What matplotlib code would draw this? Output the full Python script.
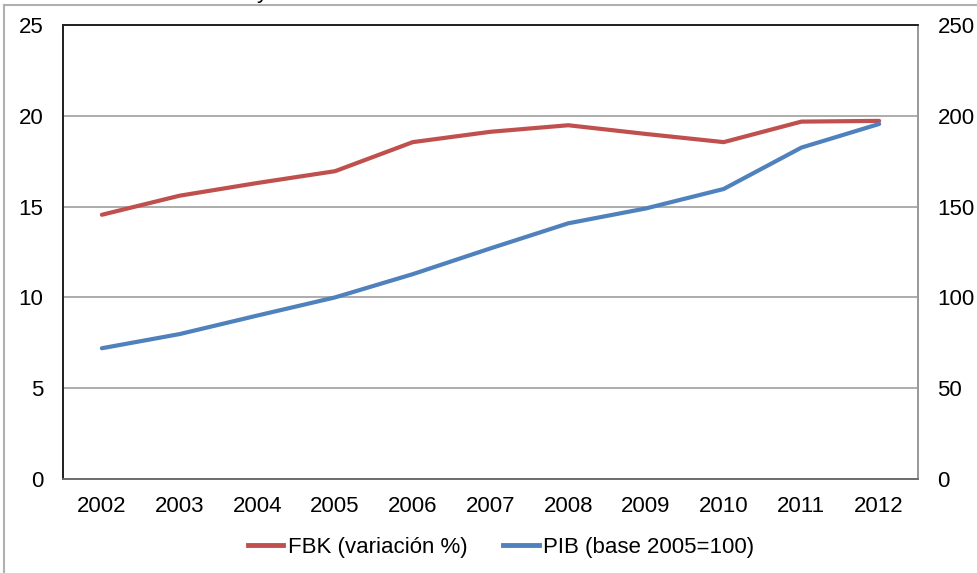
import matplotlib.pyplot as plt
from matplotlib.lines import Line2D

plt.rcParams['font.family'] = ['Liberation Sans', 'DejaVu Sans']

# data
years = ['2002', '2003', '2004', '2005', '2006', '2007', '2008', '2009', '2010', '2011', '2012']
fbk = [14.55, 15.6, 16.3, 16.95, 18.55, 19.12, 19.48, 19.0, 18.55, 19.68, 19.72]
pib = [72.0, 79.8, 90.0, 100.0, 112.8, 127.0, 140.8, 149.0, 159.7, 182.5, 195.5]

left_ticks = [0, 5, 10, 15, 20, 25]
right_ticks = [0, 50, 100, 150, 200, 250]

red = '#C0504D'
blue = '#4F81BD'
fs = 16

fig = plt.figure(figsize=(9.77, 5.73), dpi=100)

# outer frame
fig.add_artist(Line2D([4 / 977, 4 / 977], [0, 1 - 4.5 / 573], color='#b0b0b0', lw=1.5))
fig.add_artist(Line2D([4 / 977, 1], [1 - 4.5 / 573, 1 - 4.5 / 573], color='#b0b0b0', lw=1.5))
fig.text(262 / 977, 1 + 2 / 573, 'y', fontsize=fs, ha='center', va='baseline')

ax = fig.add_axes([63 / 977, 94 / 573, 855 / 977, 454 / 573])
ax2 = ax.twinx()

x = range(len(years))
ax.plot(x, fbk, color=red, lw=3, solid_capstyle='round', zorder=3)
ax2.plot(x, pib, color=blue, lw=3, solid_capstyle='round', zorder=3)

ax.set_xlim(-0.5, len(years) - 0.5)
ax.set_ylim(0, 25)
ax2.set_ylim(0, 250)
ax.set_xticks(list(x))
ax.set_xticklabels(years)
ax.set_yticks(left_ticks)
ax2.set_yticks(right_ticks)

for v in left_ticks[1:-1]:
    ax.axhline(v, color='#a6a6a6', lw=1.3, zorder=1)

ax.tick_params(axis='x', length=0, pad=12, labelsize=fs)
ax.tick_params(axis='y', length=0, pad=14, labelsize=fs)
ax2.tick_params(axis='y', length=0, pad=14, labelsize=fs)

for a in (ax, ax2):
    a.spines['left'].set_color('#222222')
    a.spines['top'].set_color('#222222')
    a.spines['bottom'].set_color('#6e6e6e')
    a.spines['right'].set_color('#9a9a9a')
    for s in a.spines.values():
        s.set_linewidth(1.3)

handles = [Line2D([], [], color=red, lw=3.5), Line2D([], [], color=blue, lw=3.5)]
fig.legend(handles, ['FBK (variación %)', 'PIB (base 2005=100)'], loc='center',
           bbox_to_anchor=(501 / 977, 1 - 547 / 573), ncol=2, frameon=False,
           fontsize=fs, handlelength=1.6, handletextpad=0.2, columnspacing=1.6)

fig.savefig('out.png', dpi=100)
